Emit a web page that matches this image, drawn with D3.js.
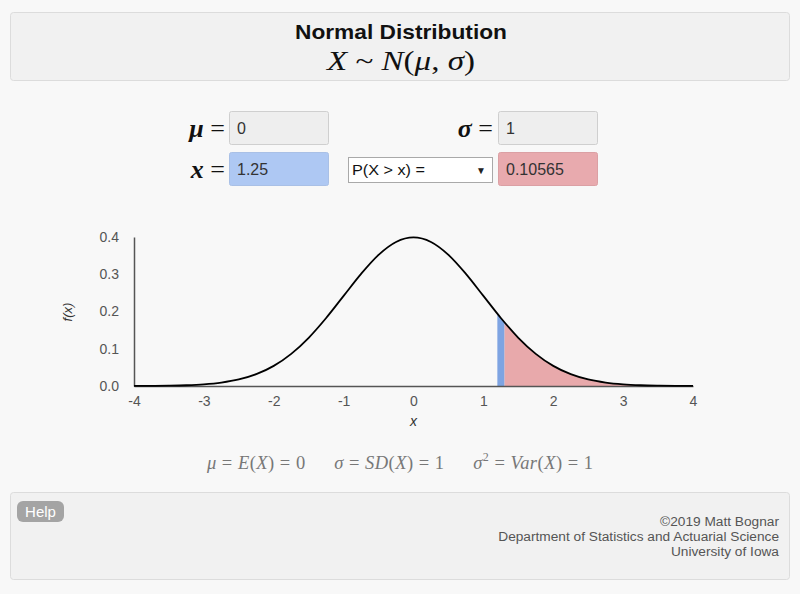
<!DOCTYPE html>
<html><head><meta charset="utf-8">
<script src="https://cdn.jsdelivr.net/npm/d3@7"></script>
<style>
html,body{margin:0;padding:0;background:#f8f8f8;}
svg{display:block;}
</style></head>
<body>
<script>
// ---- data ----
const xValues = [-4,-3.75,-3.5,-3.25,-3,-2.75,-2.5,-2.25,-2,-1.75,-1.5,-1.25,-1,-0.75,-0.5,-0.25,0,0.25,0.5,0.75,1,1.25,1.5,1.75,2,2.25,2.5,2.75,3,3.25,3.5,3.75,4];
const densities = [0.0001,0.0004,0.0009,0.0020,0.0044,0.0091,0.0175,0.0317,0.0540,0.0863,0.1295,0.1826,0.2420,0.3011,0.3521,0.3867,0.3989,0.3867,0.3521,0.3011,0.2420,0.1826,0.1295,0.0863,0.0540,0.0317,0.0175,0.0091,0.0044,0.0020,0.0009,0.0004,0.0001];
const xTicks = [-4,-3,-2,-1,0,1,2,3,4];
const yTicks = [0.0,0.1,0.2,0.3,0.4];
const markBand = [1.2, 1.3];   // blue band at x = 1.25
const tailBand = [1.3, 4];     // shaded P(X > x)
const params = {mu: "0", sigma: "1", x: "1.25", prob: "0.10565", select: "P(X > x) ="};

const W = 800, H = 594;
const svg = d3.select("body").append("svg").attr("width", W).attr("height", H);
svg.append("rect").attr("width", W).attr("height", H).attr("fill", "#f8f8f8");

const sans = "'Liberation Sans', Arial, sans-serif";
const serif = "'Liberation Serif', 'DejaVu Serif', serif";

// header box
svg.append("rect").attr("x", 10.5).attr("y", 12.5).attr("width", 779).attr("height", 68)
  .attr("rx", 3).attr("fill", "#f1f1f1").attr("stroke", "#dcdcdc");
svg.append("text").attr("x", 401).attr("y", 39).attr("text-anchor", "middle")
  .attr("font-family", sans).attr("font-weight", "bold").attr("font-size", 20.5).attr("fill", "#111")
  .attr("textLength", 212).attr("lengthAdjust", "spacingAndGlyphs")
  .text("Normal Distribution");
const t2 = svg.append("text").attr("x", 401).attr("y", 70).attr("text-anchor", "middle")
  .attr("font-family", serif).attr("font-size", 28).attr("fill", "#111")
  .attr("textLength", 148).attr("lengthAdjust", "spacingAndGlyphs");
t2.append("tspan").attr("font-style", "italic").text("X");
t2.append("tspan").text(" ~ ");
t2.append("tspan").attr("font-style", "italic").text("N");
t2.append("tspan").text("(");
t2.append("tspan").attr("font-style", "italic").text("μ");
t2.append("tspan").text(", ");
t2.append("tspan").attr("font-style", "italic").text("σ");
t2.append("tspan").text(")");

// inputs
function label(x, y, sym) {
  const t = svg.append("text").attr("x", x).attr("y", y).attr("text-anchor", "end")
    .attr("font-family", serif).attr("font-size", 26).attr("fill", "#111");
  t.append("tspan").attr("font-style", "italic").attr("font-weight", "bold").text(sym);
  t.append("tspan").text(" =");
}
function box(x, y, w, h, fill, txt, stroke) {
  svg.append("rect").attr("x", x + 0.5).attr("y", y + 0.5).attr("width", w).attr("height", h)
    .attr("rx", 2).attr("fill", fill).attr("stroke", stroke || "#cfcfcf");
  svg.append("text").attr("x", x + 8).attr("y", y + h / 2 + 6).attr("font-family", sans)
    .attr("font-size", 16).attr("fill", "#333").text(txt);
}
label(225, 137, "μ");
box(229, 111, 99, 33, "#eeeeee", params.mu);
label(493, 137, "σ");
box(498, 111, 99, 33, "#eeeeee", params.sigma);
label(225, 178, "x");
box(229, 152, 99, 33, "#aec8f3", params.x, "#a9c0e6");
box(498, 152, 99, 33, "#e8aaae", params.prob, "#dba0a4");
svg.append("rect").attr("x", 348.5).attr("y", 157.5).attr("width", 144).attr("height", 25)
  .attr("fill", "#ffffff").attr("stroke", "#a9a9a9");
svg.append("text").attr("x", 352).attr("y", 175).attr("font-family", sans).attr("font-size", 15)
  .attr("fill", "#111").attr("textLength", 73).attr("lengthAdjust", "spacingAndGlyphs").text(params.select);
svg.append("text").attr("x", 481).attr("y", 174).attr("text-anchor", "middle").attr("font-family", sans)
  .attr("font-size", 10).attr("fill", "#222").text("▼");

// chart
const x = d3.scaleLinear().domain([-4, 4]).range([134, 693]);
const y = d3.scaleLinear().domain([0, 0.4]).range([386, 237]);
const pts = xValues.map((v, i) => ({x: v, y: densities[i]}));

const defs = svg.append("defs");
function clip(id, band) {
  defs.append("clipPath").attr("id", id).append("rect")
    .attr("x", x(band[0])).attr("y", 200).attr("width", x(band[1]) - x(band[0])).attr("height", 200);
}
clip("clipTail", tailBand);
clip("clipMark", markBand);
const area = d3.area().x(d => x(d.x)).y0(y(0)).y1(d => y(d.y)).curve(d3.curveMonotoneX);
svg.append("path").datum(pts).attr("d", area).attr("fill", "#e8a9ab").attr("clip-path", "url(#clipTail)");
svg.append("path").datum(pts).attr("d", area).attr("fill", "#7ea4e2").attr("clip-path", "url(#clipMark)");

const xAxis = d3.axisBottom(x).tickValues(xTicks).tickSize(0).tickPadding(9).tickFormat(d => String(d));
const gx = svg.append("g").attr("transform", `translate(0,${y(0)})`).call(xAxis);
const yAxis = d3.axisLeft(y).tickValues(yTicks).tickSize(0).tickPadding(15).tickFormat(d => d.toFixed(1));
const gy = svg.append("g").attr("transform", `translate(${x(-4)},0)`).call(yAxis);
[gx, gy].forEach(g => {
  g.select(".domain").attr("stroke", "#555").attr("stroke-width", 1.5);
  g.selectAll("text").attr("font-family", sans).attr("font-size", 14).attr("fill", "#555");
});
gx.selectAll("text").attr("dy", "0.8em");

const line = d3.line().x(d => x(d.x)).y(d => y(d.y)).curve(d3.curveMonotoneX);
svg.append("path").datum(pts).attr("d", line).attr("fill", "none").attr("stroke", "#000").attr("stroke-width", 1.8);

svg.append("text").attr("x", x(0)).attr("y", 426).attr("text-anchor", "middle")
  .attr("font-family", sans).attr("font-style", "italic").attr("font-size", 14).attr("fill", "#333").text("x");
svg.append("text").attr("transform", "translate(72,312) rotate(-90)").attr("text-anchor", "middle")
  .attr("font-family", sans).attr("font-style", "italic").attr("font-size", 13).attr("fill", "#333").text("f(x)");

// moments line
const m = svg.append("text").attr("x", 400).attr("y", 469).attr("text-anchor", "middle")
  .attr("font-family", serif).attr("font-size", 18.5).attr("fill", "#777")
  .attr("textLength", 386).attr("lengthAdjust", "spacing");
m.append("tspan").attr("font-style", "italic").text("μ");
m.append("tspan").text(" = ");
m.append("tspan").attr("font-style", "italic").text("E");
m.append("tspan").text("(");
m.append("tspan").attr("font-style", "italic").text("X");
m.append("tspan").text(") = " + params.mu + "\u2003\u2002");
m.append("tspan").attr("font-style", "italic").text("σ");
m.append("tspan").text(" = ");
m.append("tspan").attr("font-style", "italic").text("SD");
m.append("tspan").text("(");
m.append("tspan").attr("font-style", "italic").text("X");
m.append("tspan").text(") = " + params.sigma + "\u2003\u2002");
m.append("tspan").attr("font-style", "italic").text("σ");
m.append("tspan").attr("font-size", 12).attr("dy", -8).text("2");
m.append("tspan").attr("dy", 8).text(" = ");
m.append("tspan").attr("font-style", "italic").text("Var");
m.append("tspan").text("(");
m.append("tspan").attr("font-style", "italic").text("X");
m.append("tspan").text(") = 1");

// footer
svg.append("rect").attr("x", 10.5).attr("y", 492.5).attr("width", 779).attr("height", 87)
  .attr("rx", 3).attr("fill", "#f1f1f1").attr("stroke", "#dcdcdc");
svg.append("rect").attr("x", 17).attr("y", 501).attr("width", 47).attr("height", 21).attr("rx", 6).attr("fill", "#a4a4a4");
svg.append("text").attr("x", 40.5).attr("y", 517).attr("text-anchor", "middle").attr("font-family", sans)
  .attr("font-size", 15).attr("fill", "#fff").text("Help");
["©2019 Matt Bognar", "Department of Statistics and Actuarial Science", "University of Iowa"].forEach((s, i) => {
  svg.append("text").attr("x", 779).attr("y", 526 + i * 15).attr("text-anchor", "end")
    .attr("font-family", sans).attr("font-size", 13.7).attr("fill", "#555").text(s);
});
</script>
</body></html>
